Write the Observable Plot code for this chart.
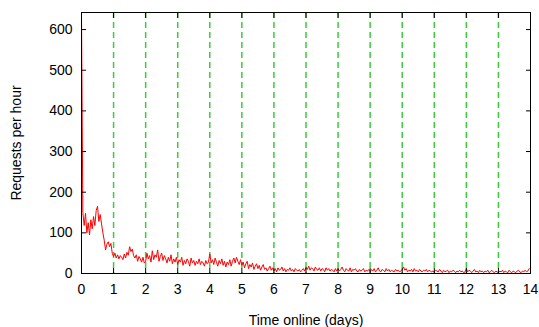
<!DOCTYPE html>
<html>
<head>
<meta charset="utf-8">
<script src="https://cdn.jsdelivr.net/npm/d3@7"></script>
<script src="https://cdn.jsdelivr.net/npm/@observablehq/plot@0.6"></script>
<style>
  body { margin: 0; background: #fff; }
</style>
</head>
<body>
<div id="chart"></div>
<script>
// Hourly request counts, one row per day online (24 hours each)
const requestsPerHour = [
  640,150,118,148,100,125, 95,132,110,140,118,155,165,128,145,122,100, 82, 58, 72, 78, 66, 74, 50,
   42, 50, 38, 46, 36, 44, 40, 34, 48, 38, 52, 45, 66, 54, 60, 44, 38, 46, 30, 42, 36, 28, 40, 26,
   30, 50, 36, 44, 28, 56, 34, 46, 40, 58, 30, 42, 50, 32, 44, 36, 26, 40, 30, 46, 24, 36, 28, 40,
   22, 34, 28, 40, 20, 32, 24, 36, 30, 18, 38, 26, 32, 20, 30, 24, 36, 22, 30, 26, 18, 32, 24, 28,
   48, 26, 34, 22, 38, 28, 18, 32, 24, 36, 20, 30, 16, 28, 22, 34, 18, 30, 38, 26, 40, 30, 22, 34,
   20, 28, 14, 24, 30, 12, 22, 16, 26, 10, 18, 24, 12, 20,  8, 16, 22, 10, 14,  6, 12, 18,  8, 14,
    6, 12,  4, 14,  8, 10, 16,  6, 12,  4, 10,  8, 14,  6, 10,  4, 12,  8,  6, 10,  4,  8, 12,  6,
   16, 10, 18,  8, 14, 12,  6, 16, 10,  8, 14,  6, 12, 10,  4, 14,  8, 12,  6, 10,  8,  4, 12,  6,
   12,  6, 10, 16,  8,  4, 12,  8,  6, 14,  4, 10,  8, 12,  6,  4, 10,  6,  8, 12,  4,  8,  6, 10,
    4, 10,  6, 12,  4,  8, 14,  6,  4, 10,  8,  4, 12,  6, 10,  4,  8,  6,  4, 10,  6,  8,  4,  6,
   10, 16,  8, 12,  4,  8,  6, 10,  4, 12,  6,  8,  4, 10,  6,  4,  8,  6, 10,  4,  8,  6,  4,  6,
    4,  8,  6,  4, 10,  6,  2,  8,  4,  6,  8,  2,  6,  4,  8,  6,  2,  6,  4,  8,  4,  6,  2,  4,
   12,  4,  8,  6,  2,  6, 10,  4,  6,  2,  8,  4,  6,  2,  6,  4,  8,  2,  4,  8,  4,  2,  6,  4,
    2,  6,  4,  8,  2,  6,  4,  2,  8,  4,  2,  6,  4,  2,  6,  8,  4,  2,  6,  4,  8,  4,  6, 12
];
const dayTicks = [0,1,2,3,4,5,6,7,8,9,10,11,12,13,14];
const dayLines = [1,2,3,4,5,6,7,8,9,10,11,12,13];
const yTicks = [0,100,200,300,400,500,600];

const series = requestsPerHour.map((v, i) => ({days: i / 24, requests: v}));

const chart = Plot.plot({
  width: 539,
  height: 327,
  marginLeft: 81,
  marginRight: 9,
  marginTop: 12,
  marginBottom: 54,
  style: {fontFamily: "'Liberation Sans', Arial, sans-serif", fontSize: "14px", color: "#000", background: "#fff"},
  x: {domain: [0, 14]},
  y: {domain: [0, 642]},
  marks: [
    Plot.ruleX(dayLines, {stroke: "#3ccc3c", strokeWidth: 1.5, strokeDasharray: "6,4"}),
    Plot.line(series, {x: "days", y: "requests", stroke: "#ff0000", strokeWidth: 1, clip: true}),
    // inward tick marks on all four sides
    Plot.axisY(yTicks, {tickSize: -5, text: null, label: null, stroke: "#000"}),
    Plot.axisY(yTicks, {anchor: "right", tickSize: -5, text: null, label: null, stroke: "#000"}),
    Plot.axisX(dayTicks, {tickSize: -5, text: null, label: null, stroke: "#000"}),
    Plot.axisX(dayTicks, {anchor: "top", tickSize: -5, text: null, label: null, stroke: "#000"}),
    // tick labels and axis titles
    Plot.axisY(yTicks, {tickSize: 0, tickPadding: 9, fontSize: 14, label: "Requests per hour", labelAnchor: "center", labelOffset: 70, labelArrow: "none"}),
    Plot.axisX(dayTicks, {tickSize: 0, tickPadding: 11, fontSize: 14, label: "Time online (days)", labelAnchor: "center", labelOffset: 51, labelArrow: "none"}),
    Plot.frame({stroke: "#000", strokeWidth: 1})
  ]
});
document.getElementById("chart").appendChild(chart);
</script>
</body>
</html>
